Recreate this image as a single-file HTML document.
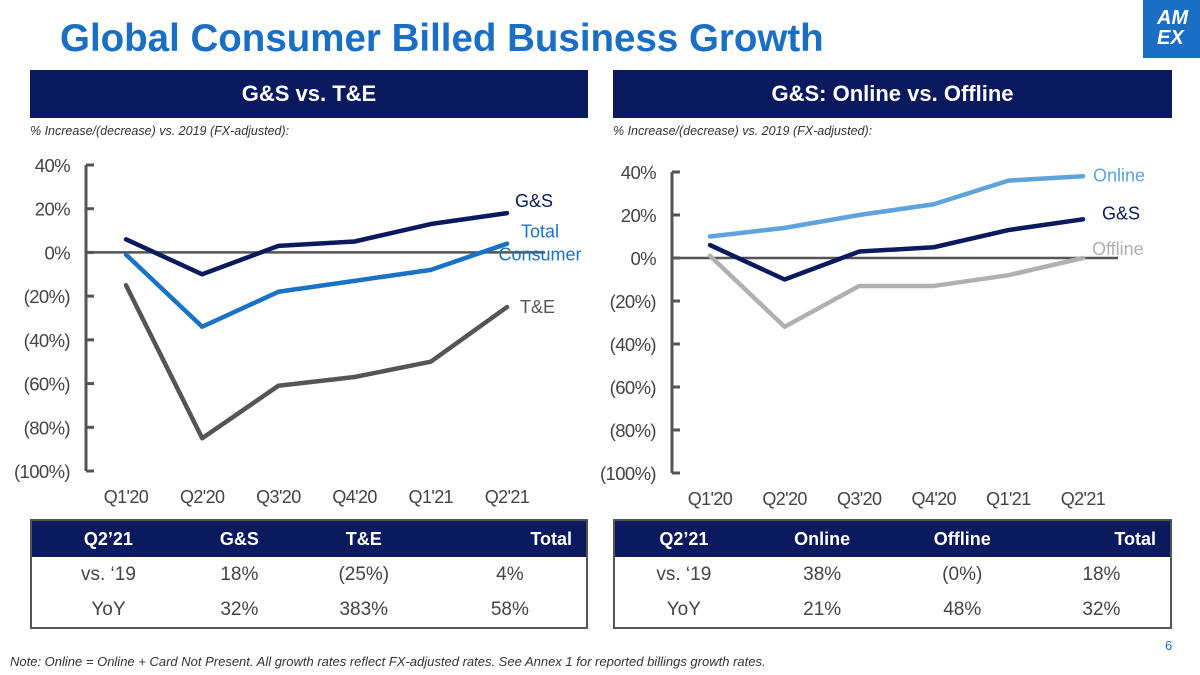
<!DOCTYPE html>
<html><head><meta charset="utf-8"><style>
body{margin:0;width:1200px;height:675px;background:#fff;font-family:"Liberation Sans",sans-serif;position:relative;overflow:hidden}
.abs{position:absolute}
.hdr{background:#0b1a5e;color:#fff;font-weight:bold;font-size:22px;text-align:center;line-height:48px;height:48px}
.sub{font-size:12.5px;font-style:italic;color:#333}
table{border-collapse:collapse;border:2px solid #555;font-size:19px;color:#444}
th{background:#0b1a5e;color:#fff;font-size:18px;height:34px}
td{text-align:center;height:33px}
</style></head><body>
<div class="abs" style="left:60px;top:17px;font-size:38.5px;font-weight:bold;color:#1a6fc4">Global Consumer Billed Business Growth</div>
<div class="abs" style="left:1143px;top:0;width:57px;height:58px;background:#1a6fc4;color:#fff;font-weight:bold;font-size:20px;line-height:20px;padding:8px 0 0 14px;box-sizing:border-box;font-style:italic">AM<br>EX</div>
<div class="abs hdr" style="left:30px;top:70px;width:558px">G&amp;S vs. T&amp;E</div>
<div class="abs hdr" style="left:613px;top:70px;width:559px">G&amp;S: Online vs. Offline</div>
<div class="abs sub" style="left:30px;top:124px">% Increase/(decrease) vs. 2019 (FX-adjusted):</div>
<div class="abs sub" style="left:613px;top:124px">% Increase/(decrease) vs. 2019 (FX-adjusted):</div>
<svg class="abs" style="left:0;top:0" width="1200" height="675" id="charts"></svg>
<table class="abs" style="left:30px;top:519px;width:558px">
<tr><th>Q2’21</th><th>G&amp;S</th><th>T&amp;E</th><th style="text-align:right;padding-right:14px">Total</th></tr>
<tr><td>vs. ‘19</td><td>18%</td><td>(25%)</td><td>4%</td></tr>
<tr><td>YoY</td><td>32%</td><td>383%</td><td>58%</td></tr></table>
<table class="abs" style="left:613px;top:519px;width:559px">
<tr><th>Q2’21</th><th>Online</th><th>Offline</th><th style="text-align:right;padding-right:14px">Total</th></tr>
<tr><td>vs. ‘19</td><td>38%</td><td>(0%)</td><td>18%</td></tr>
<tr><td>YoY</td><td>21%</td><td>48%</td><td>32%</td></tr></table>
<div class="abs" style="left:10px;top:654px;font-size:13px;font-style:italic;color:#333">Note: Online = Online + Card Not Present. All growth rates reflect FX-adjusted rates. See Annex 1 for reported billings growth rates.</div>
<div class="abs" style="left:1165px;top:638px;font-size:13px;color:#1a6fc4">6</div>
<script>
const categories=["Q1'20","Q2'20","Q3'20","Q4'20","Q1'21","Q2'21"];
const yTicks=[40,20,0,-20,-40,-60,-80,-100];
const leftGS=[6,-10,3,5,13,18];
const leftTotal=[-1,-34,-18,-13,-8,4];
const leftTE=[-15,-85,-61,-57,-50,-25];
const rightOnline=[10,14,20,25,36,38];
const rightGS=[6,-10,3,5,13,18];
const rightOffline=[1,-32,-13,-13,-8,0];
const svg=document.getElementById('charts');
const NS='http://www.w3.org/2000/svg';
function mk(t,a){const e=document.createElementNS(NS,t);for(const k in a)e.setAttribute(k,a[k]);svg.appendChild(e);return e;}
function tickLabel(v){return v<0?'('+(-v)+'%)':v+'%';}
function chart(cfg){
  const y=v=>cfg.y0+(40-v)/140*(cfg.y1-cfg.y0);
  const x=i=>cfg.x0+i*cfg.dx;
  let e=mk('line',{x1:cfg.ax,x2:cfg.ax,y1:y(40),y2:y(-100),stroke:'#555','stroke-width':3});
  
  yTicks.forEach(v=>{
    e=mk('line',{x1:cfg.ax,x2:cfg.ax+8,y1:y(v),y2:y(v),stroke:'#555','stroke-width':3});
    
    e=mk('text',{x:cfg.ax-16,y:y(v)+7,'text-anchor':'end','font-size':18.5,fill:'#444','letter-spacing':'-0.6'});e.textContent=tickLabel(v);
    
  });
  e=mk('line',{x1:cfg.ax,x2:cfg.zx,y1:y(0),y2:y(0),stroke:'#555','stroke-width':2.5});
  
  categories.forEach((c,i)=>{
    e=mk('text',{x:x(i),y:y(-100)+32,'text-anchor':'middle','font-size':18,fill:'#444','letter-spacing':'-0.6'});e.textContent=c;
    
  });
  cfg.series.forEach(s=>{
    e=mk('polyline',{points:s.d.map((v,i)=>x(i)+','+y(v)).join(' '),fill:'none',stroke:s.c,'stroke-width':4.5,'stroke-linejoin':'round','stroke-linecap':'round'});
    
    s.l.forEach((t,k)=>{
      e=mk('text',{x:s.lx,y:y(s.d[5])+s.ly+k*23,'text-anchor':s.a||'start','font-size':18,fill:s.c});e.textContent=t;
      
    });
  });
}
chart({p:'left',ax:86,zx:545,x0:126,dx:76.2,y0:165,y1:471,series:[
 {n:'te',d:leftTE,c:'#555',l:['T&E'],lx:520,ly:6},
 {n:'total',d:leftTotal,c:'#1a72c7',l:['Total','Consumer'],lx:540,ly:-6,a:'middle'},
 {n:'gs',d:leftGS,c:'#0b1a5e',l:['G&S'],lx:515,ly:-6}]});
chart({p:'right',ax:672,zx:1118,x0:710,dx:74.6,y0:172,y1:473,series:[
 {n:'offline',d:rightOffline,c:'#b0b0b0',l:['Offline'],lx:1092,ly:-3},
 {n:'online',d:rightOnline,c:'#5fa3dc',l:['Online'],lx:1093,ly:5},
 {n:'gs',d:rightGS,c:'#0b1a5e',l:['G&S'],lx:1102,ly:0}]});
</script>
</body></html>
